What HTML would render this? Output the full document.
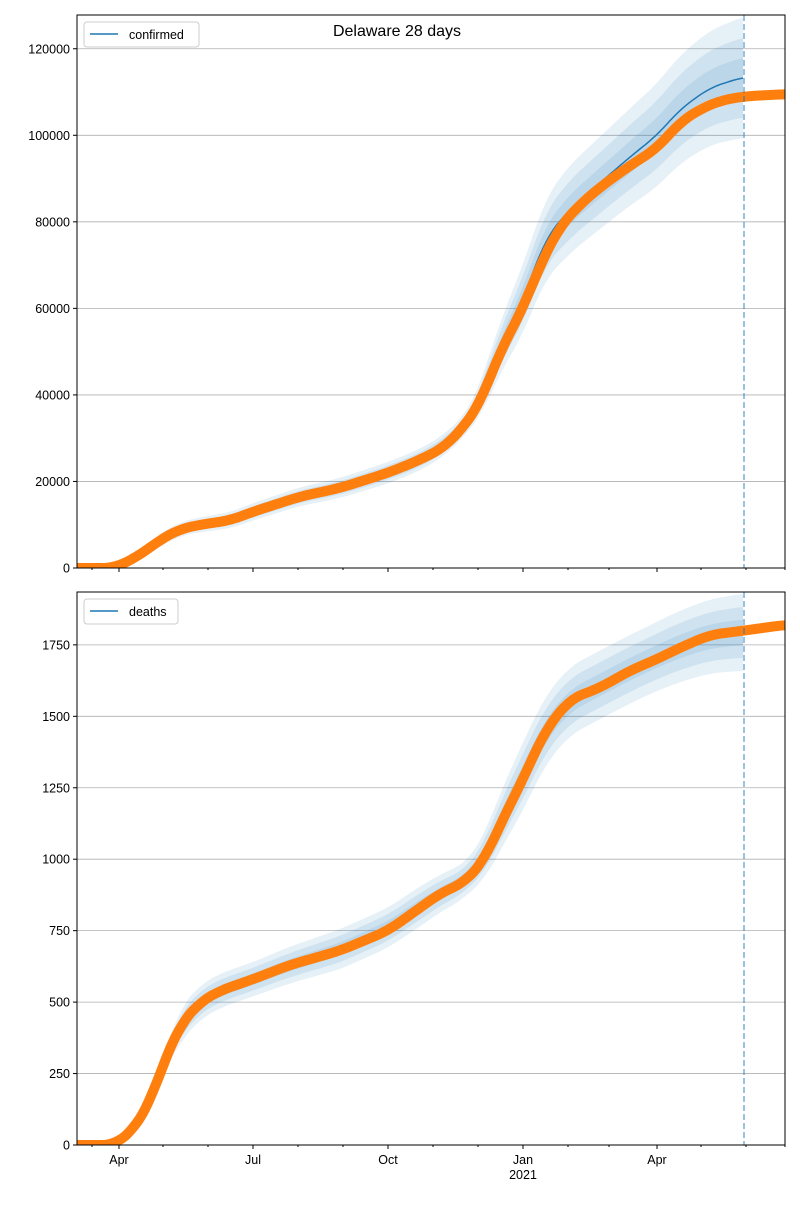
<!DOCTYPE html>
<html><head><meta charset="utf-8"><style>
body{margin:0;background:#fff}
text{font-family:"Liberation Sans","DejaVu Sans",sans-serif;font-size:12.5px;fill:#000}
</style></head><body>
<svg id="s" width="800" height="1200" xmlns="http://www.w3.org/2000/svg"></svg>
<script>
const S=document.getElementById('s');let h='';
function interp(pts,x){if(x<=pts[0][0])return pts[0][1];for(let i=0;i<pts.length-1;i++){if(x>=pts[i][0]&&x<=pts[i+1][0]){const t=(x-pts[i][0])/(pts[i+1][0]-pts[i][0]);return pts[i][1]+t*(pts[i+1][1]-pts[i][1]);}}return pts[pts.length-1][1];}
function sm(pts,x,lim){let s=0,n=0;for(let d=-12;d<=12;d+=2){let xx=Math.min(Math.max(x+d,77),lim);s+=interp(pts,xx);n++;}return s/n;}
let cid=0;
function panel(top,bot,vmax,ticks,obs,mean,wpts,label,xlabels){
 const L=77,R=785;const sy=v=>bot-v*(bot-top)/vmax;cid++;
 h+=`<clipPath id="c${cid}"><rect x="${L}" y="${top}" width="${R-L}" height="${bot-top}"/></clipPath>`;
 ticks.forEach(t=>{const y=sy(t);h+=`<line x1="${L}" x2="${R}" y1="${y}" y2="${y}" stroke="#b0b0b0" stroke-width="0.8"/>`;h+=`<line x1="${L-4}" x2="${L}" y1="${y}" y2="${y}" stroke="#000"/>`;h+=`<text x="${L-7}" y="${y+4.5}" text-anchor="end">${t}</text>`;});
 h+=`<g clip-path="url(#c${cid})">`;
 const xs=[];for(let x=L;x<=744;x+=2)xs.push(x);
 const m=x=>sm(mean,x,744), w=x=>sm(wpts,x,744);
 [1,0.66,0.33].forEach(k=>{
  let up=xs.map(x=>`${x},${sy(m(x)+k*w(x))}`);
  let dn=xs.slice().reverse().map(x=>`${x},${sy(m(x)-k*w(x))}`);
  h+=`<polygon points="${up.join(' ')} ${dn.join(' ')}" fill="#1f77b4" fill-opacity="0.11"/>`;});
 h+=`<polyline points="${xs.map(x=>`${x},${sy(m(x))}`).join(' ')}" fill="none" stroke="#1f77b4" stroke-width="1.5"/>`;
 const ox=[];for(let x=L;x<=R+6;x+=1.5)ox.push(x);
 h+=`<polyline points="${ox.map(x=>`${x},${sy(sm(obs,x,R))}`).join(' ')}" fill="none" stroke="#ff7f0e" stroke-width="10" stroke-linejoin="round" stroke-linecap="round"/>`;
 h+=`</g>`;
 h+=`<line x1="744" x2="744" y1="${top}" y2="${bot}" stroke="#1f77b4" stroke-opacity="0.6" stroke-width="1.5" stroke-dasharray="6,3"/>`;
 const months=[[92,0],[119,1],[163,0],[208,0],[253,1],[298,0],[343,0],[388,1],[433,0],[478,0],[523,1],[568,0],[609,0],[657,1],[701,0],[746,0],[785,0]];
 months.forEach(([x,maj])=>{h+=`<line x1="${x}" x2="${x}" y1="${bot}" y2="${bot+(maj?4:2)}" stroke="#000"/>`;});
 if(xlabels){[[119,'Apr'],[253,'Jul'],[388,'Oct'],[523,'Jan'],[657,'Apr']].forEach(([x,t])=>h+=`<text x="${x}" y="${bot+19}" text-anchor="middle">${t}</text>`);h+=`<text x="523" y="${bot+34}" text-anchor="middle">2021</text>`;}
 h+=`<rect x="${L}" y="${top}" width="${R-L}" height="${bot-top}" fill="none" stroke="#000" stroke-width="1"/>`;
 const lw=label.length*7+52;
 h+=`<rect x="84" y="${top+7}" width="${lw}" height="25" rx="3" fill="#fff" fill-opacity="0.8" stroke="#ccc"/>`;
 h+=`<line x1="90" x2="118" y1="${top+19}" y2="${top+19}" stroke="#1f77b4" stroke-width="1.5"/>`;
 h+=`<text x="129" y="${top+24}">${label}</text>`;
}
panel(15,568,127800,[0,20000,40000,60000,80000,100000,120000],
[[77,0],[115,0],[119,500],[140,3000],[160,6500],[180,9000],[200,10000],[230,11000],[253,13000],[300,16500],[340,18500],[388,22000],[420,25000],[445,28000],[465,33000],[480,38000],[500,50000],[523,60000],[540,70000],[560,79000],[580,84000],[600,88000],[630,93000],[657,97000],[680,103000],[700,106000],[720,108000],[744,109000],[785,109500]],
[[77,0],[115,0],[119,500],[140,3000],[160,6500],[180,9000],[200,10000],[230,11000],[253,13000],[300,16500],[340,18500],[388,22000],[420,25000],[445,28500],[465,33000],[480,38500],[500,51000],[523,62000],[545,76000],[570,83000],[600,89000],[630,95000],[657,100000],[680,106000],[710,111000],[744,113500]],
[[77,0],[119,300],[160,1500],[253,2000],[388,2500],[440,2500],[470,2500],[490,5000],[523,8000],[560,10000],[620,11000],[700,13000],[744,14000]],'confirmed',false);
h+=`<text x="397" y="36" text-anchor="middle" style="font-size:16px">Delaware 28 days</text>`;
panel(592,1145,1935,[0,250,500,750,1000,1250,1500,1750],
[[77,0],[115,0],[120,15],[135,60],[150,150],[165,300],[180,420],[200,500],[220,540],[253,580],[290,630],[340,680],[388,750],[420,830],[440,880],[465,920],[485,1000],[500,1120],[523,1280],[545,1450],[570,1560],[600,1600],[630,1660],[657,1700],[680,1740],[710,1785],[744,1800],[785,1820]],
[[77,0],[115,0],[120,15],[135,60],[150,150],[165,300],[180,420],[200,500],[220,540],[253,580],[290,630],[340,685],[388,760],[420,835],[440,880],[465,925],[485,1010],[500,1130],[523,1290],[545,1450],[570,1555],[600,1610],[630,1665],[657,1710],[680,1745],[710,1780],[744,1795]],
[[77,0],[150,10],[180,60],[253,60],[340,70],[420,70],[470,60],[500,100],[523,120],[570,120],[650,120],[744,135]],'deaths',true);
S.innerHTML=h;
</script>
</body></html>
